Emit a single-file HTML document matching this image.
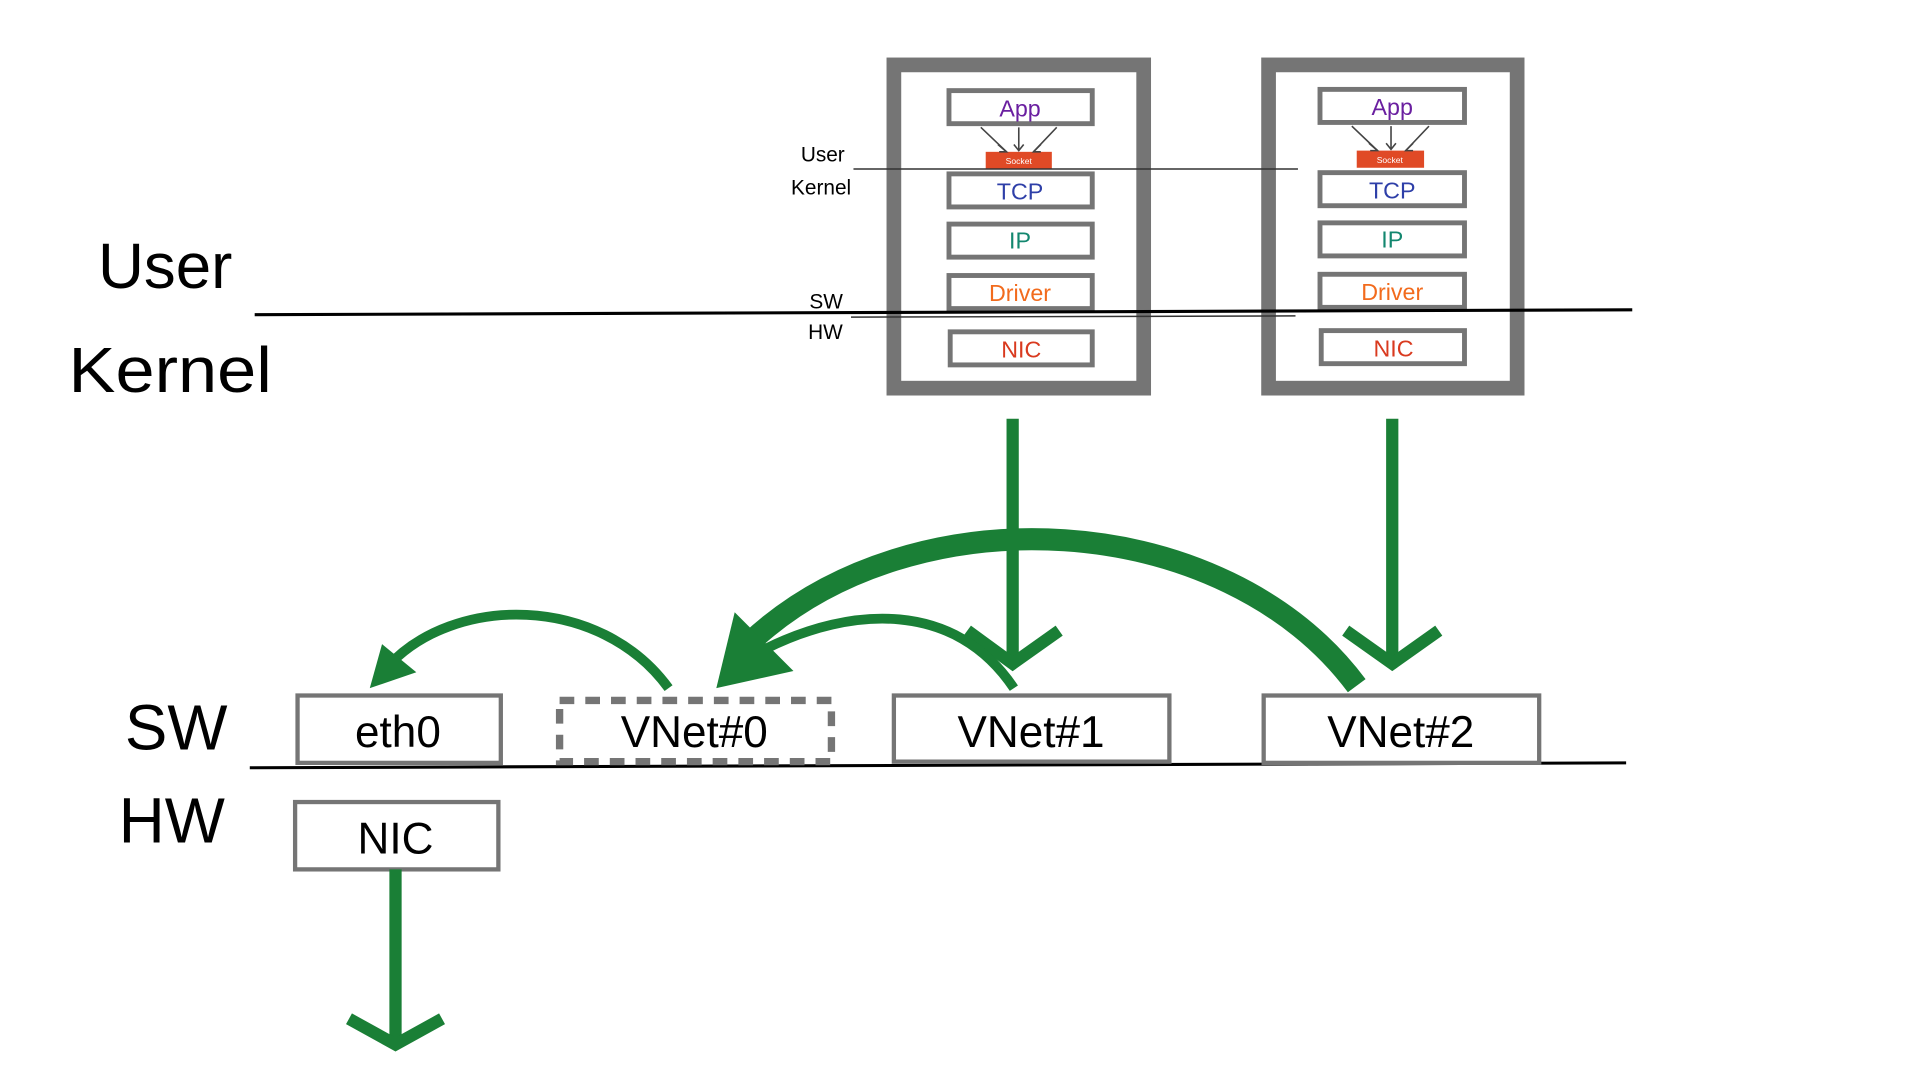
<!DOCTYPE html>
<html><head><meta charset="utf-8"><style>html,body{margin:0;padding:0;background:#fff;}svg{display:block}</style></head>
<body>
<svg width="1920" height="1080" viewBox="0 0 1568 882" preserveAspectRatio="none" xmlns="http://www.w3.org/2000/svg" font-family="Liberation Sans, DejaVu Sans, sans-serif">
<rect width="1568" height="882" fill="#fff"/>
<g font-size="52" fill="#000">
<text x="80" y="235">User</text>
<text x="56" y="320" textLength="166" lengthAdjust="spacingAndGlyphs">Kernel</text>
<text x="102" y="612">SW</text>
<text x="97" y="688">HW</text>
</g>
<g font-size="17" fill="#000">
<text x="654" y="132">User</text>
<text x="646" y="159">Kernel</text>
<text x="661" y="252">SW</text>
<text x="660" y="277">HW</text>
</g>
<g fill="none" stroke="#757575">
<rect x="730" y="53" width="204" height="264" stroke-width="12"/>
<rect x="1036" y="53" width="203" height="264" stroke-width="12"/>
</g>
<g fill="#fff" stroke="#757575" stroke-width="4">
<rect x="775" y="74" width="117" height="27"/>
<rect x="775" y="142" width="117" height="27"/>
<rect x="775" y="183" width="117" height="27"/>
<rect x="775" y="225" width="117" height="27"/>
<rect x="776" y="271" width="116" height="27"/>
<rect x="1078" y="73" width="118" height="27"/>
<rect x="1078" y="141" width="118" height="27"/>
<rect x="1078" y="182" width="118" height="27"/>
<rect x="1078" y="224" width="118" height="27"/>
<rect x="1079" y="270" width="117" height="27"/>
</g>
<rect x="805" y="124" width="54" height="14" fill="#e04a26"/>
<rect x="1108" y="123" width="55" height="14" fill="#e04a26"/>
<g font-size="7" fill="#fff" text-anchor="middle"><text x="832" y="134">Socket</text><text x="1135" y="133">Socket</text></g>
<g stroke="#444" stroke-width="1.3" fill="none">
<path d="M801,104 L822,124 M832,104 L832,123 M863,104 L844,124"/>
<path d="M1104,103 L1125,123 M1136,103 L1136,122 M1167,103 L1148,123"/>
<path d="M815,118 L822,124 L816,124 M828,118 L832,123 L836,118 M850,118 L844,124 L850,124"/>
<path d="M1118,117 L1125,123 L1119,123 M1132,117 L1136,122 L1140,117 M1154,117 L1148,123 L1154,123"/>
</g>
<g font-size="19" text-anchor="middle">
<text x="833" y="95" fill="#6a1fa0">App</text>
<text x="833" y="163" fill="#2e3fa8">TCP</text>
<text x="833" y="203" fill="#13876f">IP</text>
<text x="833" y="246" fill="#f26b1d">Driver</text>
<text x="834" y="292" fill="#d93a1f">NIC</text>
<text x="1137" y="94" fill="#6a1fa0">App</text>
<text x="1137" y="162" fill="#2e3fa8">TCP</text>
<text x="1137" y="202" fill="#13876f">IP</text>
<text x="1137" y="245" fill="#f26b1d">Driver</text>
<text x="1138" y="291" fill="#d93a1f">NIC</text>
</g>
<line x1="697" y1="138" x2="1060" y2="138" stroke="#333" stroke-width="1.2"/>
<line x1="208" y1="257" x2="1333" y2="253" stroke="#000" stroke-width="2.5"/>
<line x1="695" y1="259" x2="1058" y2="258" stroke="#333" stroke-width="1.2"/>
<line x1="204" y1="627" x2="1328" y2="623" stroke="#000" stroke-width="2.5"/>
<g fill="#fff" stroke="#757575" stroke-width="3.5">
<rect x="243" y="568" width="166" height="55"/>
<rect x="730" y="568" width="225" height="54"/>
<rect x="1032" y="568" width="225" height="55"/>
<rect x="241" y="655" width="166" height="55"/>
</g>
<rect x="457" y="572" width="222" height="50" fill="none" stroke="#757575" stroke-width="6" stroke-dasharray="12,9"/>
<g font-size="36" text-anchor="middle" fill="#000">
<text x="325" y="610">eth0</text>
<text x="567" y="610">VNet#0</text>
<text x="842" y="610">VNet#1</text>
<text x="1144" y="610">VNet#2</text>
<text x="323" y="697">NIC</text>
</g>
<g stroke="#1a7f36" fill="none">
<line x1="827" y1="342" x2="827" y2="540" stroke-width="10"/>
<polyline points="790,515 827,542 865,515" stroke-width="10"/>
<line x1="1137" y1="342" x2="1137" y2="540" stroke-width="10"/>
<polyline points="1099,515 1137,542 1175,515" stroke-width="10"/>
<line x1="323" y1="710" x2="323" y2="850" stroke-width="10"/>
<polyline points="285,832 323,853 361,832" stroke-width="10"/>
<path d="M1108,560 C1000,415 745,400 612,525" stroke-width="18"/>
<path d="M828,562 C780,490 695,495 625,530" stroke-width="8"/>
<path d="M546,562 C490,485 370,485 316,545" stroke-width="8"/>
</g>
<g fill="#1a7f36">
<polygon points="585,562 600,500 648,548"/>
<polygon points="302,562 312,526 340,549"/>
</g>
</svg>
</body></html>
